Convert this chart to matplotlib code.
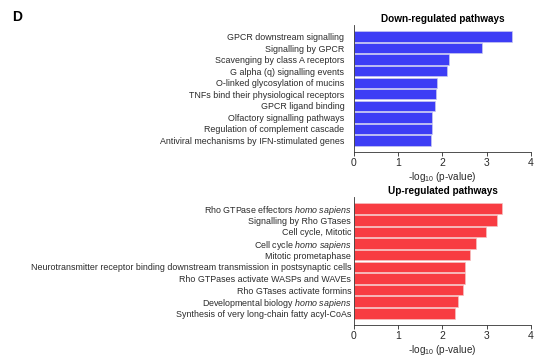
import numpy as np
import matplotlib
matplotlib.use("Agg")
import matplotlib.pyplot as plt

plt.rcParams['font.family'] = ['Liberation Sans', 'DejaVu Sans']
plt.rcParams['mathtext.fontset'] = 'custom'
plt.rcParams['mathtext.rm'] = 'Liberation Sans'
plt.rcParams['mathtext.it'] = 'Liberation Sans:italic'

# --- data ---
down_labels = [
    "GPCR downstream signalling",
    "Signalling by GPCR",
    "Scavenging by class A receptors",
    "G alpha (q) signalling events",
    "O-linked glycosylation of mucins",
    "TNFs bind their physiological receptors",
    "GPCR ligand binding",
    "Olfactory signalling pathways",
    "Regulation of complement cascade",
    "Antiviral mechanisms by IFN-stimulated genes",
]
down_values = [3.58, 2.90, 2.15, 2.11, 1.88, 1.86, 1.82, 1.77, 1.77, 1.73]

up_labels = [
    r"Rho GTPase effectors $\mathit{homo\ sapiens}$",
    "Signalling by Rho GTases",
    "Cell cycle, Mitotic",
    r"Cell cycle $\mathit{homo\ sapiens}$",
    "Mitotic prometaphase",
    "Neurotransmitter receptor binding downstream transmission in postsynaptic cells",
    "Rho GTPases activate WASPs and WAVEs",
    "Rho GTases activate formins",
    r"Developmental biology $\mathit{homo\ sapiens}$",
    "Synthesis of very long-chain fatty acyl-CoAs",
]
up_values = [3.35, 3.23, 2.99, 2.75, 2.63, 2.52, 2.50, 2.46, 2.36, 2.28]

BLUE = "#3d3df5"
RED = "#f83c42"
TXT = "#2a2a2a"

fig = plt.figure(figsize=(5.5, 3.61), dpi=100)
ax1 = fig.add_axes([0.6436, 0.5789, 0.3218, 0.3518])
ax2 = fig.add_axes([0.6436, 0.0997, 0.3218, 0.3546])


def draw(ax, labels, values, color, edge, title, lpad):
    y = np.arange(len(labels))
    ax.barh(y, values, height=0.9, color=color, edgecolor=edge, linewidth=0.5)
    ax.set_ylim(len(labels), -1)
    ax.set_xlim(0, 4)
    ax.set_yticks(y)
    ax.set_yticklabels(labels, fontsize=6.4, color=TXT)
    for t in ax.get_yticklabels():
        t.set_verticalalignment("center_baseline")
    ax.tick_params(axis='y', length=0, pad=lpad)
    ax.set_xticks([0, 1, 2, 3, 4])
    ax.tick_params(axis='x', length=3, width=0.6, labelsize=7.5, pad=1.5, colors=TXT)
    for s in ["top", "right"]:
        ax.spines[s].set_visible(False)
    for s in ["left", "bottom"]:
        ax.spines[s].set_linewidth(0.6)
        ax.spines[s].set_color("#333333")
    ax.set_xlabel(r"-log$_{10}$ (p-value)", fontsize=7.2, labelpad=1, color=TXT)
    ax.set_title(title, fontsize=7.2, fontweight="bold", pad=2)


draw(ax1, down_labels, down_values, BLUE, "#c8c8f0", "Down-regulated pathways", 7)
draw(ax2, up_labels, up_values, RED, "#f5c0c0", "Up-regulated pathways", 2)

fig.text(0.022, 0.972, "D", fontsize=10, fontweight="bold", va="top", ha="left")

fig.savefig("out.png", dpi=100)
